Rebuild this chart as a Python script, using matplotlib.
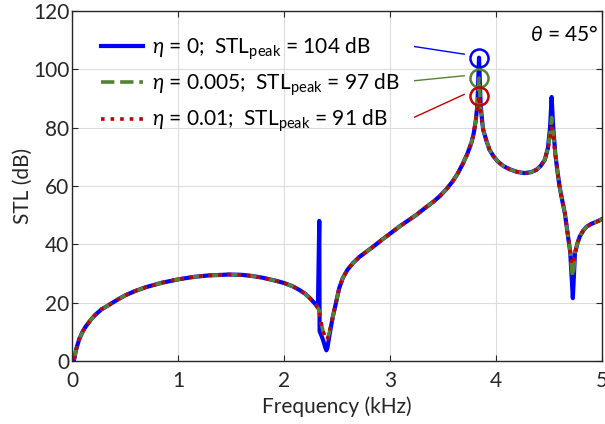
import numpy as np
import matplotlib
matplotlib.use('Agg')
import matplotlib.pyplot as plt

FONT = 'Lato'
plt.rcParams['font.family'] = [FONT, 'DejaVu Sans']
plt.rcParams['mathtext.fontset'] = 'custom'
plt.rcParams['mathtext.rm'] = FONT
plt.rcParams['mathtext.it'] = FONT + ':italic'

# frequency grid (kHz)
freq = [0.02, 0.04, 0.066, 0.10, 0.13, 0.18, 0.22, 0.28, 0.35, 0.43,
        0.51, 0.60, 0.70, 0.85, 1.01, 1.15, 1.29, 1.48, 1.60, 1.70,
        1.80, 1.93, 2.00, 2.08, 2.15, 2.20, 2.25, 2.30, 2.32, 2.333,
        2.336, 2.340, 2.35, 2.37, 2.39, 2.40, 2.41, 2.43, 2.46, 2.49,
        2.52, 2.555, 2.60, 2.65, 2.71, 2.78, 2.85, 2.93, 3.00, 3.09,
        3.17, 3.25, 3.33, 3.41, 3.47, 3.53, 3.59, 3.64, 3.69, 3.73,
        3.77, 3.79, 3.81, 3.825, 3.84, 3.855, 3.87, 3.88, 3.91, 3.94,
        3.98, 4.02, 4.07, 4.13, 4.20, 4.27, 4.33, 4.38, 4.42, 4.46,
        4.49, 4.51, 4.525, 4.54, 4.56, 4.58, 4.60, 4.625, 4.65, 4.68,
        4.70, 4.715, 4.725, 4.735, 4.745, 4.77, 4.79, 4.82, 4.855, 4.90,
        4.96, 5.00]

# STL (dB), eta = 0
stl_eta0 = [0.5, 4.0, 7.2, 10.0, 11.8, 14.2, 15.8, 17.7, 19.2, 21.0,
            22.6, 24.0, 25.3, 26.8, 28.0, 28.8, 29.3, 29.6, 29.5, 29.1,
            28.5, 27.4, 26.7, 25.6, 24.2, 23.0, 21.3, 19.3, 18.2, 48.0,
            10.2, 9.8, 9.0, 7.0, 4.5, 3.6, 4.5, 9.0, 15.0, 19.8,
            24.8, 28.4, 31.3, 33.5, 35.6, 37.5, 39.4, 41.7, 43.6, 46.1,
            48.1, 50.1, 52.4, 54.6, 56.5, 58.8, 61.5, 64.3, 67.8, 71.0,
            75.0, 78.0, 82.6, 88.0, 104.0, 88.0, 82.0, 79.2, 75.5, 72.3,
            70.0, 68.3, 66.8, 65.7, 64.8, 64.4, 64.7, 65.5, 66.8, 68.9,
            73.0, 80.0, 90.5, 80.0, 71.0, 65.0, 59.8, 55.0, 50.6, 42.6,
            37.5, 28.0, 21.5, 29.0, 36.9, 40.5, 42.6, 44.5, 46.0, 47.0,
            47.9, 48.6]

# STL (dB), eta = 0.005
stl_eta005 = [0.5, 4.0, 7.2, 10.0, 11.8, 14.2, 15.8, 17.7, 19.2, 21.0,
              22.6, 24.0, 25.3, 26.8, 28.0, 28.8, 29.3, 29.6, 29.5, 29.1,
              28.5, 27.4, 26.7, 25.6, 24.2, 23.0, 21.3, 19.3, 18.2, 17.2,
              16.2, 14.8, 13.0, 10.0, 7.8, 7.2, 7.5, 10.0, 15.0, 19.8,
              24.8, 28.4, 31.3, 33.5, 35.6, 37.5, 39.4, 41.7, 43.6, 46.1,
              48.1, 50.1, 52.4, 54.6, 56.5, 58.8, 61.5, 64.3, 67.8, 71.0,
              75.0, 78.0, 82.6, 87.5, 97.0, 87.0, 82.0, 79.2, 75.5, 72.3,
              70.0, 68.3, 66.8, 65.7, 64.8, 64.4, 64.7, 65.5, 66.8, 68.9,
              73.0, 78.0, 83.5, 78.0, 71.0, 65.0, 59.8, 55.0, 50.6, 42.6,
              37.5, 31.0, 28.9, 31.5, 36.9, 40.5, 42.6, 44.5, 46.0, 47.0,
              47.9, 48.6]

# STL (dB), eta = 0.01
stl_eta01 = [0.5, 4.0, 7.2, 10.0, 11.8, 14.2, 15.8, 17.7, 19.2, 21.0,
             22.6, 24.0, 25.3, 26.8, 28.0, 28.8, 29.3, 29.6, 29.5, 29.1,
             28.5, 27.4, 26.7, 25.6, 24.2, 23.0, 21.3, 19.3, 18.2, 17.2,
             16.2, 14.8, 13.0, 10.0, 7.8, 7.2, 7.5, 10.0, 15.0, 19.8,
             24.8, 28.4, 31.3, 33.5, 35.6, 37.5, 39.4, 41.7, 43.6, 46.1,
             48.1, 50.1, 52.4, 54.6, 56.5, 58.8, 61.5, 64.3, 67.8, 71.0,
             75.0, 78.0, 82.6, 86.5, 91.0, 85.5, 82.0, 79.2, 75.5, 72.3,
             70.0, 68.3, 66.8, 65.7, 64.8, 64.4, 64.7, 65.5, 66.8, 68.9,
             73.0, 76.5, 80.0, 76.5, 71.0, 65.0, 59.8, 55.0, 50.6, 42.6,
             37.5, 33.5, 33.0, 34.5, 36.9, 40.5, 42.6, 44.5, 46.0, 47.0,
             47.9, 48.6]

etas = ['0', '0.005', '0.01']
peak_freq = 3.84
peak_stl = [104, 97, 91]
colors = ['#0000FF', '#548235', '#C00000']
styles = ['-', '--', ':']
widths = [3.0, 2.6, 2.6]

FS = 15

fig, ax = plt.subplots(figsize=(6.05, 4.24), dpi=100)
fig.subplots_adjust(left=0.119, right=0.995, bottom=0.149, top=0.974)

series = [stl_eta0, stl_eta005, stl_eta01]
for i, stl in enumerate(series):
    ax.plot(freq, stl, linestyle=styles[i], color=colors[i], lw=widths[i],
            label=r'$\eta$ = %s;  STL$_{\mathrm{peak}}$ = %d dB' % (etas[i], peak_stl[i]))

# circles on the peaks with leader lines to the legend
label_y = [107.8, 96.1, 83.6]
for i in range(3):
    ax.plot(peak_freq, peak_stl[i], 'o', mfc='none', mec=colors[i], ms=13, mew=1.8)
    ax.plot([3.233, peak_freq - 0.14], [label_y[i], peak_stl[i] + 1.2 - 0.4 * i],
            color=colors[i], lw=1.0)

ax.text(4.97, 111.8, r'$\theta$ = 45°', ha='right', va='center', fontsize=FS)

ax.set_xlim(0, 5)
ax.set_ylim(0, 120)
ax.set_xticks([0, 1, 2, 3, 4, 5])
ax.set_yticks(range(0, 121, 20))
ax.set_xlabel('Frequency (kHz)', fontsize=FS, color='#262626', labelpad=4)
ax.set_ylabel('STL (dB)', fontsize=FS, color='#262626', labelpad=0)
ax.tick_params(direction='in', top=True, right=True, labelsize=FS,
               colors='#262626', length=4)
ax.tick_params(axis='x', pad=7)
ax.tick_params(axis='y', pad=2)
ax.grid(True, color='#dcdcdc', lw=0.8)
for s in ax.spines.values():
    s.set_color('#262626')
    s.set_linewidth(1.0)

ax.legend(loc='upper left', bbox_to_anchor=(0.02, 0.985), frameon=False,
          fontsize=FS, handlelength=2.0, handletextpad=0.45, labelspacing=0.47)

fig.savefig('out.png', dpi=100)
